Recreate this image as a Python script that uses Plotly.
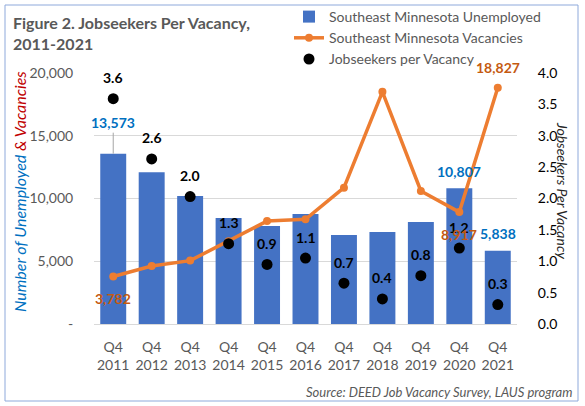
import plotly.graph_objects as go

years = ["Q4<br>2011", "Q4<br>2012", "Q4<br>2013", "Q4<br>2014", "Q4<br>2015", "Q4<br>2016",
         "Q4<br>2017", "Q4<br>2018", "Q4<br>2019", "Q4<br>2020", "Q4<br>2021"]
unemployed = [13573, 12100, 10200, 8450, 7800, 8760, 7090, 7330, 8130, 10807, 5838]
vacancies = [3782, 4620, 5050, 6600, 8200, 8340, 10860, 18500, 10600, 8917, 18827]
jobseekers = [3.59, 2.63, 2.03, 1.28, 0.95, 1.05, 0.65, 0.40, 0.77, 1.21, 0.31]
js_labels = ["3.6", "2.6", "2.0", "1.3", "0.9", "1.1", "0.7", "0.4", "0.8", "1.2", "0.3"]
left_ticks = [0, 5000, 10000, 15000, 20000]
left_tick_text = ["-", "5,000", "10,000", "15,000", "20,000"]
right_ticks = [0, 0.5, 1.0, 1.5, 2.0, 2.5, 3.0, 3.5, 4.0]
right_tick_text = ["0.0", "0.5", "1.0", "1.5", "2.0", "2.5", "3.0", "3.5", "4.0"]
# labelled points (index)
unemp_label_idx = [0, 9, 10]
vac_label_idx = [0, 9, 10]

BLUE = "#4472C4"
ORANGE = "#ED7D31"
FONT = "Lato"
GRAY = "#595959"

W, H = 585, 406
L, R, T, B = 94, 517, 73, 324


def px(x):
    return (x - L) / (R - L)


def py(y):
    return (B - y) / (B - T)


fig = go.Figure()
fig.add_trace(go.Bar(x=years, y=unemployed, name="Southeast Minnesota Unemployed",
                     marker=dict(color=BLUE, line=dict(width=0)), width=0.675))
fig.add_trace(go.Scatter(x=years, y=vacancies, name="Southeast Minnesota Vacancies",
                         mode="lines+markers", line=dict(color=ORANGE, width=3.5),
                         marker=dict(color=ORANGE, size=8)))
fig.add_trace(go.Scatter(x=years, y=jobseekers, name="Jobseekers per Vacancy", yaxis="y2",
                         mode="markers", marker=dict(color="black", size=11)))

annotations = []
for i, lab in enumerate(js_labels):
    annotations.append(dict(x=years[i], y=jobseekers[i], yref="y2", text="<b>%s</b>" % lab,
                            showarrow=False, yshift=21,
                            font=dict(family=FONT, size=14, color="black")))
for i in unemp_label_idx:
    txt = "<b>{:,}</b>".format(unemployed[i])
    if i == 0:
        annotations.append(dict(x=years[i], y=unemployed[i], text=txt, showarrow=True,
                                ax=0, ay=-31, arrowhead=0, arrowwidth=1, arrowcolor="#A6A6A6",
                                font=dict(family=FONT, size=14, color="#0070C0")))
    else:
        annotations.append(dict(x=years[i], y=unemployed[i], text=txt, showarrow=False,
                                yshift=17, font=dict(family=FONT, size=14, color="#0070C0")))
for i in vac_label_idx:
    txt = "<b>{:,}</b>".format(vacancies[i])
    shift = 20 if i == 10 else -22
    annotations.append(dict(x=years[i], y=vacancies[i], text=txt, showarrow=False,
                            yshift=shift, font=dict(family=FONT, size=14, color="#C55A11")))

annotations.append(dict(xref="paper", yref="paper", x=px(19), y=py(192), textangle=-90,
                        xanchor="center", yanchor="middle", showarrow=False,
                        text="<i><span style='color:#0070C0'>Number of Unemployed</span> "
                             "<span style='color:#C00000'>&amp; Vacancies</span></i>",
                        font=dict(family=FONT, size=16)))
annotations.append(dict(xref="paper", yref="paper", x=px(563), y=py(190), textangle=90,
                        xanchor="center", yanchor="middle",
                        showarrow=False, text="<i>Jobseekers Per Vacancy</i>",
                        font=dict(family=FONT, size=14, color="#262626")))
annotations.append(dict(xref="paper", yref="paper", x=px(574), y=py(392), xanchor="right",
                        yanchor="middle", showarrow=False,
                        text="<i>Source: DEED Job Vacancy Survey, LAUS program</i>",
                        font=dict(family=FONT, size=13, color=GRAY)))
annotations.append(dict(xref="paper", yref="paper", x=px(11), y=py(11), xanchor="left",
                        yanchor="top", align="left", showarrow=False,
                        text="<b>Figure 2. Jobseekers Per Vacancy,<br>2011-2021</b>",
                        font=dict(family=FONT, size=16, color=GRAY)))

fig.update_layout(
    width=W, height=H,
    margin=dict(l=L, r=W - R, t=T, b=H - B, autoexpand=False),
    paper_bgcolor="white", plot_bgcolor="white",
    font=dict(family=FONT, color=GRAY),
    bargap=0.325,
    showlegend=True,
    legend=dict(xref="container", yref="container", x=289 / W, y=1 - 1 / H,
                xanchor="left", yanchor="top", bgcolor="rgba(0,0,0,0)",
                font=dict(family=FONT, size=14, color=GRAY), tracegroupgap=0,
                itemwidth=30),
    xaxis=dict(range=[-0.5, 10.5], showline=True, linecolor="#D9D9D9", linewidth=1,
               ticks="outside", ticklen=10, tickcolor="rgba(0,0,0,0)", tickangle=0,
               automargin=False, tickfont=dict(family=FONT, size=14, color=GRAY),
               showgrid=False),
    yaxis=dict(range=[0, 20000], tickvals=left_ticks, ticktext=left_tick_text,
               showgrid=True, gridcolor="#D9D9D9", zeroline=False, showline=False,
               ticks="outside", ticklen=17, tickcolor="rgba(0,0,0,0)", automargin=False,
               tickfont=dict(family=FONT, size=14, color=GRAY)),
    yaxis2=dict(range=[0, 4], tickvals=right_ticks, ticktext=right_tick_text, overlaying="y",
                side="right", showgrid=False, zeroline=False, showline=False,
                ticks="outside", ticklen=17, tickcolor="rgba(0,0,0,0)", automargin=False,
                tickfont=dict(family=FONT, size=14, color="black")),
    annotations=annotations,
    shapes=[dict(type="rect", xref="paper", yref="paper", x0=px(5), x1=px(578),
                 y0=py(401), y1=py(5), line=dict(color="#8EA9DB", width=1), layer="below")],
)

fig.write_html("out.html", config={"displayModeBar": False},
               post_script="document.body.style.margin='0px';")
